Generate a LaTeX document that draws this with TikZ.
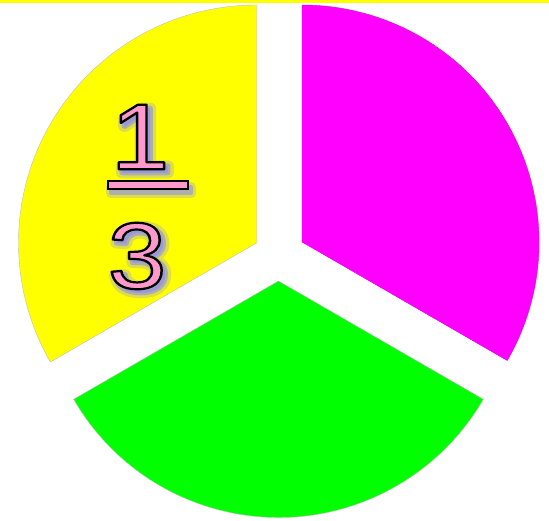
\documentclass[tikz,border=0pt]{standalone}
\usepackage{fontspec}
\newfontfamily\digitfont{Liberation Sans}
\definecolor{pinkfill}{HTML}{FF99CC}
\definecolor{glowblue}{HTML}{9090F0}
\definecolor{pieyellow}{HTML}{FFFF00}
\definecolor{piemagenta}{HTML}{FF00FF}
\definecolor{piegreen}{HTML}{00FF00}
\newcommand{\outlinedtxt}[1]{\special{pdf:literal direct 2 Tr 2.2 w 1 j 0 0 0 RG}#1\special{pdf:literal direct 0 Tr}}
\newcommand{\glowouter}[1]{\special{pdf:literal direct 2 Tr 11 w 1 j 0.565 0.565 0.941 RG}#1\special{pdf:literal direct 0 Tr}}
\newcommand{\glowinner}[1]{\special{pdf:literal direct 2 Tr 5 w 1 j 0.565 0.565 0.941 RG}#1\special{pdf:literal direct 0 Tr}}
\begin{document}
\begin{tikzpicture}[x=1pt,y=1pt,
  sector/.style={line width=0.4pt},
  digit/.style={inner sep=0pt, font=\digitfont\fontsize{94}{94}\selectfont, xscale=1.12},
  glow/.style={digit, text=glowblue}]
\useasboundingbox (0,0) rectangle (549,520);
% top yellow line
\fill[pieyellow] (0,517) rectangle (549,520);
% sectors
\fill[pieyellow, draw=black!25, sector] (256.5,277) -- +(90:238pt) arc[start angle=90, end angle=210, radius=238pt] -- cycle;
\fill[piemagenta, draw=piemagenta!85!black, sector] (302,278) -- +(-30:237pt) arc[start angle=-30, end angle=90, radius=237pt] -- cycle;
\fill[piegreen, draw=black!25, sector] (278.5,239) -- +(210:236.5pt) arc[start angle=210, end angle=330, radius=236.5pt] -- cycle;
% glow (soft shadow, offset to lower right)
\node[glow, opacity=0.3] (oneglowA) at (143.5,379.5) {\glowouter{1}};
\node[glow, opacity=0.6] (oneglowB) at (143.5,379.5) {\glowinner{1}};
\node[glow, opacity=0.3] (threeglowA) at (140.5,260.5) {\glowouter{3}};
\node[glow, opacity=0.6] (threeglowB) at (140.5,260.5) {\glowinner{3}};
\fill[glowblue, opacity=0.3, rounded corners=5pt] (106,322) rectangle (196,338);
\fill[glowblue, opacity=0.6, rounded corners=2pt] (109,325) rectangle (193,335);
% fraction
\node[digit, text=pinkfill] (one) at (140,383) {\outlinedtxt{1}};
\node[digit, text=pinkfill] (three) at (137,264) {\outlinedtxt{3}};
\draw[fill=pinkfill, draw=black, line width=1.6pt] (108,331) rectangle (188,339);
\end{tikzpicture}
\end{document}
